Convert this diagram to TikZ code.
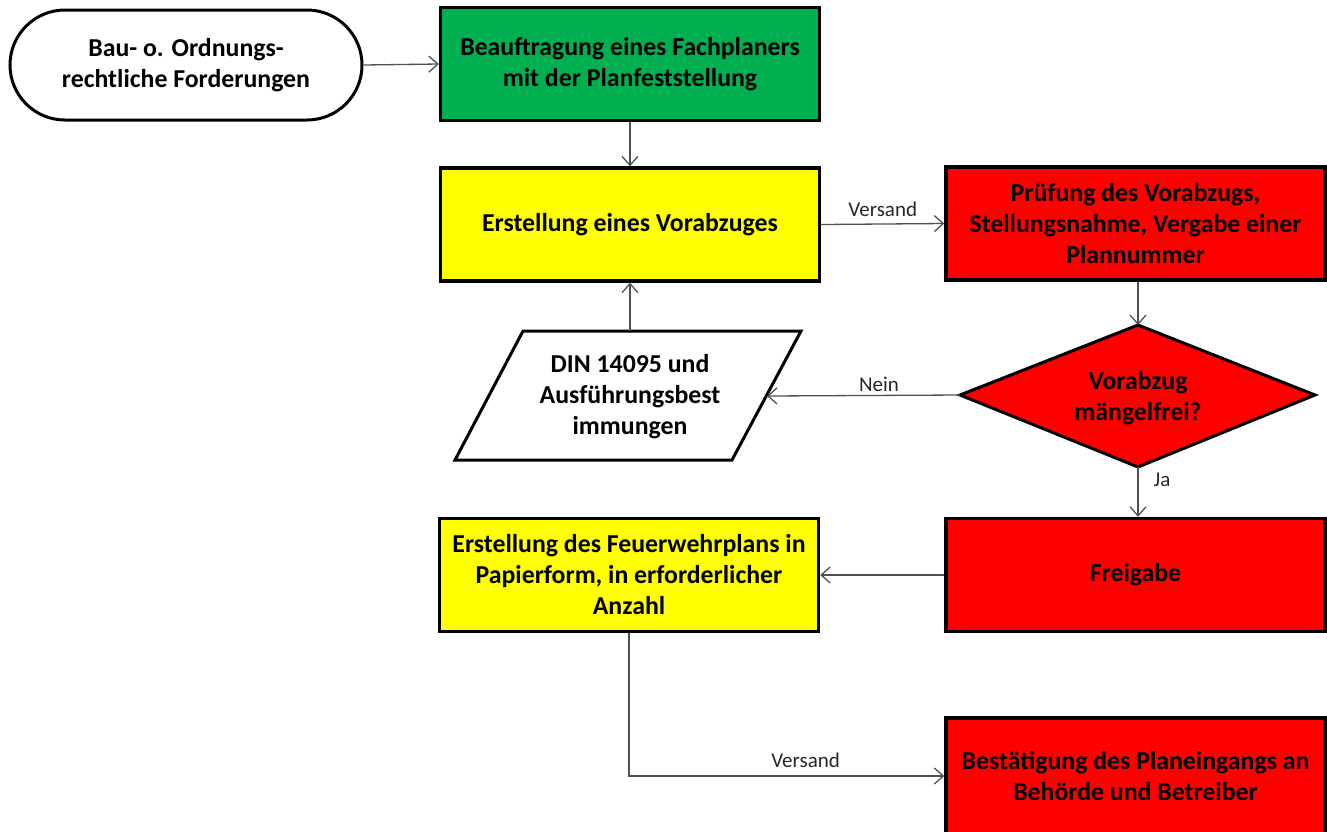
\documentclass[tikz,border=0pt]{standalone}
\usepackage{fontspec}
\setmainfont{Carlito}
\usetikzlibrary{arrows.meta,shapes.geometric}
\definecolor{fgreen}{HTML}{00B050}
\definecolor{fyellow}{HTML}{FFFF00}
\definecolor{fred}{HTML}{FF0000}
\definecolor{conn}{HTML}{505050}
\tikzset{
  box/.style={draw=black, line width=3.4pt, minimum width=379pt, minimum height=113pt,
    align=center, inner sep=0pt, font=\fontsize{25.8}{31}\selectfont\bfseries},
  term/.style={draw=black, line width=3pt, rounded corners=55pt, minimum width=352pt,
    minimum height=110pt, align=center, inner sep=0pt, fill=white,
    font=\fontsize{25.8}{31}\selectfont\bfseries},
  txt/.style={align=center, inner sep=0pt, font=\fontsize{25.8}{31}\selectfont\bfseries},
  conn/.style={draw=conn, line width=1.3pt, -{Straight Barb[length=9pt,width=16pt,line width=1.3pt]}},
  lbl/.style={inner sep=0pt, text=black!85, font=\fontsize{21}{24}\selectfont},
}
\begin{document}
\begin{tikzpicture}[x=1pt,y=-1pt]
\useasboundingbox (0,0) rectangle (1327,831);
% nodes
\node[term] (start) at (186,65) {Bau- o. Ordnungs-\\rechtliche Forderungen};
\node[box, fill=fgreen] (auftrag) at (630,64) {Beauftragung eines Fachplaners\\mit der Planfeststellung};
\node[box, fill=fyellow] (vorab) at (630,224.5) {Erstellung eines Vorabzuges};
\node[box, fill=fred] (pruef) at (1135.5,223.5) {Prüfung des Vorabzugs,\\Stellungsnahme, Vergabe einer\\Plannummer};
% decision diamond
\coordinate (dl) at (960,395);
\coordinate (dt) at (1138,325);
\coordinate (dr) at (1315,395);
\coordinate (db) at (1138,467);
\draw[line width=3pt, fill=fred, line join=miter] (dl) -- (dt) -- (dr) -- (db) -- cycle;
\node[txt] (dec) at (1138,398) {Vorabzug\\mängelfrei?};
% parallelogram
\coordinate (p1) at (523,331);
\coordinate (p2) at (801,331);
\coordinate (p3) at (732,460);
\coordinate (p4) at (455,460);
\draw[line width=3pt, fill=white, line join=miter] (p1) -- (p2) -- (p3) -- (p4) -- cycle;
\node[txt] (din) at (630,397) {DIN 14095 und\\Ausführungsbest\\immungen};
\coordinate (dintop) at (630,331);
\coordinate (dinright) at (767,396);
\node[box, fill=fred] (frei) at (1135.5,575) {Freigabe};
\node[box, fill=fyellow] (fwplan) at (629,575) {Erstellung des Feuerwehrplans in\\Papierform, in erforderlicher\\Anzahl};
\node[box, fill=fred, minimum height=116pt] (best) at (1135.5,776) {Bestätigung des Planeingangs an\\Behörde und Betreiber};
% connectors
\draw[conn] (start.east) -- (auftrag.west);
\draw[conn] (auftrag.south) -- (vorab.north);
\draw[conn] (vorab.east) -- node[lbl, above=7pt] {Versand} (pruef.west);
\draw[conn] (pruef.south -| dt) -- (dt);
\draw[conn] (dl) -- node[lbl, above=3pt, pos=0.42] {Nein} (dinright);
\draw[conn] (dintop) -- (vorab.south);
\draw[conn] (db) -- node[lbl, right=15pt, pos=0.25] {Ja} (frei.north -| db);
\draw[conn] (frei.west) -- (fwplan.east);
\draw[conn] (fwplan.south) |- node[lbl, above=8pt, pos=0.78] {Versand} (best.west);
\end{tikzpicture}
\end{document}
